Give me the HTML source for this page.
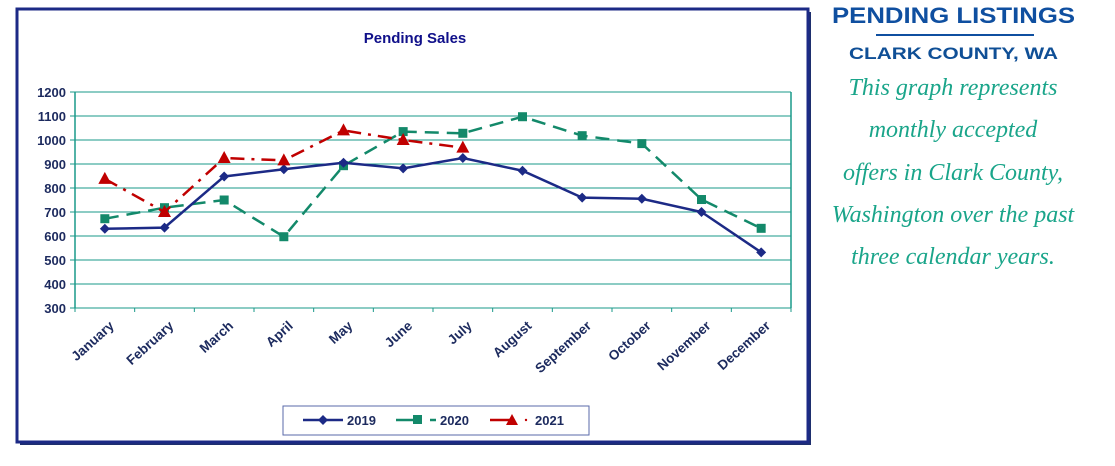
<!DOCTYPE html>
<html><head><meta charset="utf-8"><style>
body{margin:0;width:1115px;height:466px;background:#fff;overflow:hidden;position:relative;font-family:"Liberation Sans",sans-serif}
svg{position:absolute;left:0;top:0}
</style></head><body>
<svg width="1115" height="466">
<rect x="20" y="12" width="791" height="433" fill="#1e2f6e"/>
<rect x="17" y="9" width="791" height="433" fill="#fff" stroke="#1c2a86" stroke-width="3"/>
<text x="415" y="43" text-anchor="middle" font-size="15" font-weight="bold" fill="#10108a">Pending Sales</text>
<g id="grid"></g><g id="series"></g>
<g>
<rect x="283" y="406" width="306" height="29" fill="#fff" stroke="#5a6aaa" stroke-width="1"/>
<line x1="303" y1="420" x2="343" y2="420" stroke="#1c2a86" stroke-width="2.5"/><path d="M323 415 L328 420 L323 425 L318 420Z" fill="#1c2a86"/>
<text x="347" y="425" font-size="13" font-weight="bold" fill="#1c2a5e">2019</text>
<line x1="396" y1="420" x2="418" y2="420" stroke="#13896a" stroke-width="2.5"/><rect x="413" y="415" width="9" height="9" fill="#13896a"/><line x1="430" y1="420" x2="436" y2="420" stroke="#13896a" stroke-width="2.5"/>
<text x="440" y="425" font-size="13" font-weight="bold" fill="#1c2a5e">2020</text>
<line x1="490" y1="420" x2="512" y2="420" stroke="#c00000" stroke-width="2.5"/><path d="M512 414 L518 425 L506 425Z" fill="#c00000"/><circle cx="526" cy="420" r="1.2" fill="#c00000"/>
<text x="535" y="425" font-size="13" font-weight="bold" fill="#1c2a5e">2021</text>
</g>
<text x="832" y="23" font-size="22" font-weight="bold" fill="#0f4fa0" textLength="243" lengthAdjust="spacingAndGlyphs">PENDING LISTINGS</text>
<line x1="876" y1="35" x2="1034" y2="35" stroke="#0f4fa0" stroke-width="2"/>
<text x="849" y="59" font-size="17" font-weight="bold" fill="#0f4f96" textLength="209" lengthAdjust="spacingAndGlyphs">CLARK COUNTY, WA</text>
<g font-family="'Liberation Serif',serif" font-style="italic" font-size="24" fill="#1aa58a" text-anchor="middle">
<text x="953" y="95">This graph represents</text>
<text x="953" y="137">monthly accepted</text>
<text x="953" y="180">offers in Clark County,</text>
<text x="953" y="222">Washington over the past</text>
<text x="953" y="264">three calendar years.</text>
</g>
</svg>
<script>
const months=["January","February","March","April","May","June","July","August","September","October","November","December"];
const s2019=[630,635,848,878,905,882,925,872,760,755,700,532];
const s2020=[672,718,750,597,893,1035,1028,1097,1018,985,752,632];
const s2021=[838,700,925,915,1040,1000,968];
const yTicks=[300,400,500,600,700,800,900,1000,1100,1200];
const NS="http://www.w3.org/2000/svg";
const L=75,R=791,T=92,B=308;
const bw=(R-L)/months.length;
const x=i=>L+bw*(i+0.5);
const y=v=>B-(v-300)/900*(B-T);
function mk(tag,a,p){const e=document.createElementNS(NS,tag);for(const k in a)e.setAttribute(k,a[k]);p.appendChild(e);return e;}
const g=document.getElementById('grid');
yTicks.forEach(t=>{
 const ln=mk('line',{x1:L-5,x2:R,y1:y(t),y2:y(t),stroke:'#1a9a8a','stroke-width':1},g);
 
 
 const tx=mk('text',{x:L-9,y:y(t)+5,'text-anchor':'end','font-size':13,'font-weight':'bold',fill:'#1c2a5e'},g);
 tx.textContent=t;
 
 
});
mk('line',{x1:L,x2:L,y1:T,y2:B,stroke:'#1a9a8a','stroke-width':1.5},g);
mk('line',{x1:R,x2:R,y1:T,y2:B,stroke:'#1a9a8a','stroke-width':1.5},g);
months.forEach((m,i)=>{
 mk('line',{x1:L+bw*i,x2:L+bw*i,y1:B,y2:B+4,stroke:'#1a9a8a'},g);
 const ax=x(i)+10,ay=B+19;
 const tx=mk('text',{x:ax,y:ay,'text-anchor':'end','font-size':13.5,'font-weight':'bold',fill:'#1c2a5e',transform:`rotate(-42 ${ax} ${ay})`},g);
 tx.textContent=m;
 
 
});
mk('line',{x1:R,x2:R,y1:B,y2:B+4,stroke:'#1a9a8a'},g);
const sg=document.getElementById('series');
function series(data,color,dash,marker,name){
 const pl=mk('polyline',{points:data.map((v,i)=>x(i)+','+y(v)).join(' '),fill:'none',stroke:color,'stroke-width':2.5,'stroke-dasharray':dash},sg);
 
 
 data.forEach((v,i)=>{
  const cx=x(i),cy=y(v);let e;
  if(marker==='d')e=mk('path',{d:`M${cx} ${cy-5}L${cx+5} ${cy}L${cx} ${cy+5}L${cx-5} ${cy}Z`,fill:color},sg);
  else if(marker==='s')e=mk('rect',{x:cx-4.5,y:cy-4.5,width:9,height:9,fill:color},sg);
  else e=mk('path',{d:`M${cx} ${cy-7}L${cx+6.5} ${cy+5}L${cx-6.5} ${cy+5}Z`,fill:color},sg);
  
  
 });
}
series(s2020,'#13896a','14 8','s','series-2020');
series(s2019,'#1c2a86','','d','series-2019');
series(s2021,'#c00000','14 7 3 7','t','series-2021');
</script>
</body></html>
